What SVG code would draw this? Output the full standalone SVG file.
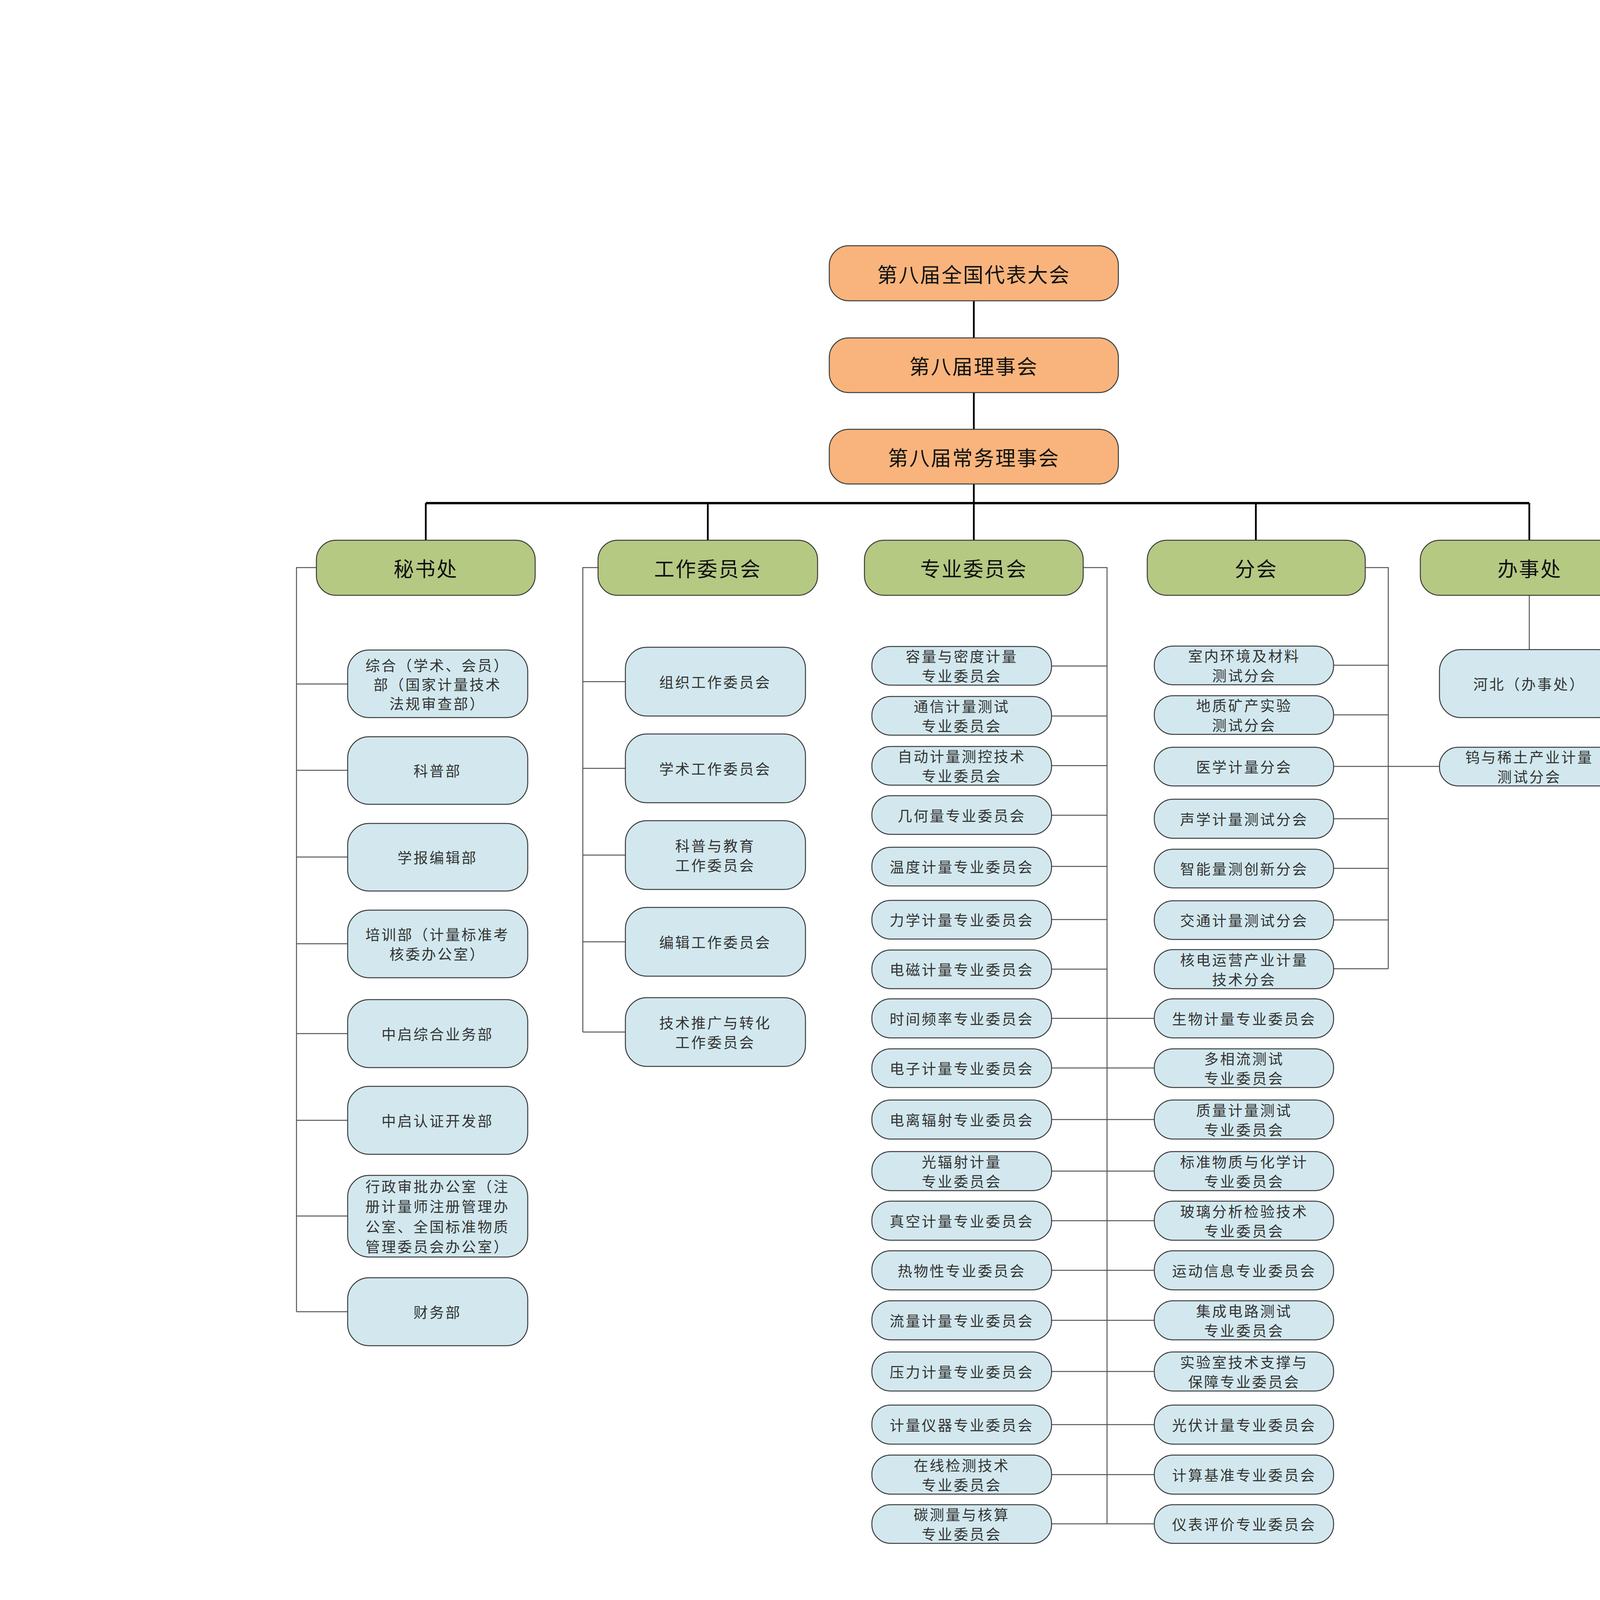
<svg xmlns="http://www.w3.org/2000/svg" width="4961" height="7016" viewBox="0 0 4961 7016">
<style>
.n rect{stroke:#3c3c3c;stroke-width:2.5}
.top rect{fill:#F8B47C}
.grn rect{fill:#B5C983}
.blu rect{fill:#D2E8EE}
text{font-family:"Noto Sans CJK SC","Noto Sans CJK TC",sans-serif;text-anchor:middle;dominant-baseline:central}
.t1{font-size:52px;fill:#111;letter-spacing:3px}
.t2{font-size:37px;fill:#333;letter-spacing:4px}
.c1{stroke:#000;stroke-width:4.5;fill:none}
.cb{stroke:#000;stroke-width:6;fill:none}
.c2{stroke:#555;stroke-width:2.5;fill:none}
</style>
<rect x="0" y="0" width="4961" height="7016" fill="#ffffff"/>
<g id="connectors">
<path class="c1" d="M2493 770V865M2493 1005V1099M2493 1239V1288"/>
<path class="cb" d="M1090 1288H3915"/>
<path class="c1" d="M1090 1288V1383M1812 1288V1383M2493 1288V1383M3215 1288V1383M3915 1288V1383"/>
<path class="c2" d="M810 1453H759V3358M759 1751H890M759 1972H890M759 2194H890M759 2416H890M759 2646H890M759 2868H890M759 3113H890M759 3358H890"/>
<path class="c2" d="M1531 1453H1492V2642M1492 1745H1601M1492 1967H1601M1492 2189H1601M1492 2411H1601M1492 2642H1601"/>
<path class="c2" d="M2773 1453H2834V3901M2692 1705H2834M2692 1833H2834M2692 1960H2834M2692 2087H2834M2692 2218H2834M2692 2354H2834M2692 2481H2834"/>
<path class="c2" d="M2692 2607H2955M2692 2734H2955M2692 2866H2955M2692 2998H2955M2692 3125H2955M2692 3252H2955M2692 3380H2955M2692 3511H2955M2692 3647H2955M2692 3775H2955M2692 3901H2955"/>
<path class="c2" d="M3495 1453H3554V2480M3414 1703H3554M3414 1830H3554M3414 1962H3685M3414 2096H3554M3414 2223H3554M3414 2355H3554M3414 2480H3554"/>
<path class="c2" d="M3915 1524V1663"/>
</g>
<g id="n_congress" class="n top"><rect x="2123" y="629" width="740" height="141" rx="50"/><text class="t1" x="2493" y="700">第八届全国代表大会</text></g>
<g id="n_council" class="n top"><rect x="2123" y="865" width="740" height="140" rx="50"/><text class="t1" x="2493" y="935">第八届理事会</text></g>
<g id="n_standing" class="n top"><rect x="2123" y="1099" width="740" height="140" rx="50"/><text class="t1" x="2493" y="1169">第八届常务理事会</text></g>
<g id="n_mishu" class="n grn"><rect x="810" y="1383" width="560" height="141" rx="50"/><text class="t1" x="1090" y="1453">秘书处</text></g>
<g id="n_gongzuo" class="n grn"><rect x="1531" y="1383" width="562" height="141" rx="50"/><text class="t1" x="1812" y="1453">工作委员会</text></g>
<g id="n_zhuanye" class="n grn"><rect x="2213" y="1383" width="560" height="141" rx="50"/><text class="t1" x="2493" y="1453">专业委员会</text></g>
<g id="n_fenhui" class="n grn"><rect x="2937" y="1383" width="558" height="141" rx="50"/><text class="t1" x="3216" y="1453">分会</text></g>
<g id="n_banshichu" class="n grn"><rect x="3636" y="1383" width="560" height="141" rx="50"/><text class="t1" x="3916" y="1453">办事处</text></g>
<g id="s1" class="n blu"><rect x="890" y="1664" width="461" height="173" rx="55"/><text class="t2" x="1120" y="1702">综合（学术、会员）</text><text class="t2" x="1120" y="1751">部（国家计量技术</text><text class="t2" x="1120" y="1800">法规审查部）</text></g>
<g id="s2" class="n blu"><rect x="890" y="1886" width="461" height="173" rx="55"/><text class="t2" x="1120" y="1972">科普部</text></g>
<g id="s3" class="n blu"><rect x="890" y="2108" width="461" height="173" rx="55"/><text class="t2" x="1120" y="2194">学报编辑部</text></g>
<g id="s4" class="n blu"><rect x="890" y="2330" width="461" height="173" rx="55"/><text class="t2" x="1120" y="2391">培训部（计量标准考</text><text class="t2" x="1120" y="2441">核委办公室）</text></g>
<g id="s5" class="n blu"><rect x="890" y="2559" width="461" height="174" rx="55"/><text class="t2" x="1120" y="2646">中启综合业务部</text></g>
<g id="s6" class="n blu"><rect x="890" y="2781" width="461" height="174" rx="55"/><text class="t2" x="1120" y="2868">中启认证开发部</text></g>
<g id="s7" class="n blu"><rect x="890" y="3009" width="461" height="209" rx="55"/><text class="t2" x="1120" y="3036">行政审批办公室（注</text><text class="t2" x="1120" y="3087">册计量师注册管理办</text><text class="t2" x="1120" y="3139">公室、全国标准物质</text><text class="t2" x="1120" y="3190">管理委员会办公室）</text></g>
<g id="s8" class="n blu"><rect x="890" y="3271" width="461" height="174" rx="55"/><text class="t2" x="1120" y="3358">财务部</text></g>
<g id="w1" class="n blu"><rect x="1601" y="1657" width="461" height="176" rx="55"/><text class="t2" x="1831" y="1745">组织工作委员会</text></g>
<g id="w2" class="n blu"><rect x="1601" y="1879" width="461" height="176" rx="55"/><text class="t2" x="1831" y="1967">学术工作委员会</text></g>
<g id="w3" class="n blu"><rect x="1601" y="2101" width="461" height="176" rx="55"/><text class="t2" x="1831" y="2164">科普与教育</text><text class="t2" x="1831" y="2214">工作委员会</text></g>
<g id="w4" class="n blu"><rect x="1601" y="2323" width="461" height="176" rx="55"/><text class="t2" x="1831" y="2411">编辑工作委员会</text></g>
<g id="w5" class="n blu"><rect x="1601" y="2554" width="461" height="176" rx="55"/><text class="t2" x="1831" y="2617">技术推广与转化</text><text class="t2" x="1831" y="2667">工作委员会</text></g>
<g id="z1" class="n blu"><rect x="2232" y="1655" width="460" height="99" rx="48"/><text class="t2" x="2462" y="1679">容量与密度计量</text><text class="t2" x="2462" y="1729">专业委员会</text></g>
<g id="z2" class="n blu"><rect x="2232" y="1783" width="460" height="99" rx="48"/><text class="t2" x="2462" y="1807">通信计量测试</text><text class="t2" x="2462" y="1857">专业委员会</text></g>
<g id="z3" class="n blu"><rect x="2232" y="1911" width="460" height="99" rx="48"/><text class="t2" x="2462" y="1935">自动计量测控技术</text><text class="t2" x="2462" y="1985">专业委员会</text></g>
<g id="z4" class="n blu"><rect x="2232" y="2037" width="460" height="99" rx="48"/><text class="t2" x="2462" y="2087">几何量专业委员会</text></g>
<g id="z5" class="n blu"><rect x="2232" y="2169" width="460" height="99" rx="48"/><text class="t2" x="2462" y="2218">温度计量专业委员会</text></g>
<g id="z6" class="n blu"><rect x="2232" y="2305" width="460" height="99" rx="48"/><text class="t2" x="2462" y="2354">力学计量专业委员会</text></g>
<g id="z7" class="n blu"><rect x="2232" y="2432" width="460" height="99" rx="48"/><text class="t2" x="2462" y="2481">电磁计量专业委员会</text></g>
<g id="z8" class="n blu"><rect x="2232" y="2557" width="460" height="100" rx="48"/><text class="t2" x="2462" y="2607">时间频率专业委员会</text></g>
<g id="z9" class="n blu"><rect x="2232" y="2685" width="460" height="99" rx="48"/><text class="t2" x="2462" y="2734">电子计量专业委员会</text></g>
<g id="z10" class="n blu"><rect x="2232" y="2816" width="460" height="100" rx="48"/><text class="t2" x="2462" y="2866">电离辐射专业委员会</text></g>
<g id="z11" class="n blu"><rect x="2232" y="2948" width="460" height="100" rx="48"/><text class="t2" x="2462" y="2973">光辐射计量</text><text class="t2" x="2462" y="3023">专业委员会</text></g>
<g id="z12" class="n blu"><rect x="2232" y="3075" width="460" height="100" rx="48"/><text class="t2" x="2462" y="3125">真空计量专业委员会</text></g>
<g id="z13" class="n blu"><rect x="2232" y="3202" width="460" height="100" rx="48"/><text class="t2" x="2462" y="3252">热物性专业委员会</text></g>
<g id="z14" class="n blu"><rect x="2232" y="3330" width="460" height="100" rx="48"/><text class="t2" x="2462" y="3380">流量计量专业委员会</text></g>
<g id="z15" class="n blu"><rect x="2232" y="3461" width="460" height="100" rx="48"/><text class="t2" x="2462" y="3511">压力计量专业委员会</text></g>
<g id="z16" class="n blu"><rect x="2232" y="3597" width="460" height="100" rx="48"/><text class="t2" x="2462" y="3647">计量仪器专业委员会</text></g>
<g id="z17" class="n blu"><rect x="2232" y="3725" width="460" height="100" rx="48"/><text class="t2" x="2462" y="3750">在线检测技术</text><text class="t2" x="2462" y="3800">专业委员会</text></g>
<g id="z18" class="n blu"><rect x="2232" y="3852" width="460" height="99" rx="48"/><text class="t2" x="2462" y="3876">碳测量与核算</text><text class="t2" x="2462" y="3926">专业委员会</text></g>
<g id="f1" class="n blu"><rect x="2955" y="1654" width="459" height="99" rx="48"/><text class="t2" x="3185" y="1678">室内环境及材料</text><text class="t2" x="3185" y="1728">测试分会</text></g>
<g id="f2" class="n blu"><rect x="2955" y="1781" width="459" height="99" rx="48"/><text class="t2" x="3185" y="1805">地质矿产实验</text><text class="t2" x="3185" y="1855">测试分会</text></g>
<g id="f3" class="n blu"><rect x="2955" y="1913" width="459" height="99" rx="48"/><text class="t2" x="3185" y="1962">医学计量分会</text></g>
<g id="f4" class="n blu"><rect x="2955" y="2046" width="459" height="100" rx="48"/><text class="t2" x="3185" y="2096">声学计量测试分会</text></g>
<g id="f5" class="n blu"><rect x="2955" y="2174" width="459" height="99" rx="48"/><text class="t2" x="3185" y="2223">智能量测创新分会</text></g>
<g id="f6" class="n blu"><rect x="2955" y="2306" width="459" height="99" rx="48"/><text class="t2" x="3185" y="2355">交通计量测试分会</text></g>
<g id="f7" class="n blu"><rect x="2955" y="2431" width="459" height="100" rx="48"/><text class="t2" x="3185" y="2456">核电运营产业计量</text><text class="t2" x="3185" y="2506">技术分会</text></g>
<g id="r8" class="n blu"><rect x="2955" y="2557" width="459" height="100" rx="48"/><text class="t2" x="3185" y="2607">生物计量专业委员会</text></g>
<g id="r9" class="n blu"><rect x="2955" y="2685" width="459" height="99" rx="48"/><text class="t2" x="3185" y="2709">多相流测试</text><text class="t2" x="3185" y="2759">专业委员会</text></g>
<g id="r10" class="n blu"><rect x="2955" y="2816" width="459" height="100" rx="48"/><text class="t2" x="3185" y="2841">质量计量测试</text><text class="t2" x="3185" y="2891">专业委员会</text></g>
<g id="r11" class="n blu"><rect x="2955" y="2948" width="459" height="100" rx="48"/><text class="t2" x="3185" y="2973">标准物质与化学计</text><text class="t2" x="3185" y="3023">专业委员会</text></g>
<g id="r12" class="n blu"><rect x="2955" y="3075" width="459" height="100" rx="48"/><text class="t2" x="3185" y="3100">玻璃分析检验技术</text><text class="t2" x="3185" y="3150">专业委员会</text></g>
<g id="r13" class="n blu"><rect x="2955" y="3202" width="459" height="100" rx="48"/><text class="t2" x="3185" y="3252">运动信息专业委员会</text></g>
<g id="r14" class="n blu"><rect x="2955" y="3330" width="459" height="100" rx="48"/><text class="t2" x="3185" y="3355">集成电路测试</text><text class="t2" x="3185" y="3405">专业委员会</text></g>
<g id="r15" class="n blu"><rect x="2955" y="3461" width="459" height="100" rx="48"/><text class="t2" x="3185" y="3486">实验室技术支撑与</text><text class="t2" x="3185" y="3536">保障专业委员会</text></g>
<g id="r16" class="n blu"><rect x="2955" y="3597" width="459" height="100" rx="48"/><text class="t2" x="3185" y="3647">光伏计量专业委员会</text></g>
<g id="r17" class="n blu"><rect x="2955" y="3725" width="459" height="100" rx="48"/><text class="t2" x="3185" y="3775">计算基准专业委员会</text></g>
<g id="r18" class="n blu"><rect x="2955" y="3852" width="459" height="99" rx="48"/><text class="t2" x="3185" y="3901">仪表评价专业委员会</text></g>
<g id="b1" class="n blu"><rect x="3685" y="1663" width="461" height="174" rx="55"/><text class="t2" x="3915" y="1750">河北（办事处）</text></g>
<g id="b2" class="n blu"><rect x="3685" y="1913" width="461" height="99" rx="48"/><text class="t2" x="3915" y="1937">钨与稀土产业计量</text><text class="t2" x="3915" y="1987">测试分会</text></g>
</svg>
